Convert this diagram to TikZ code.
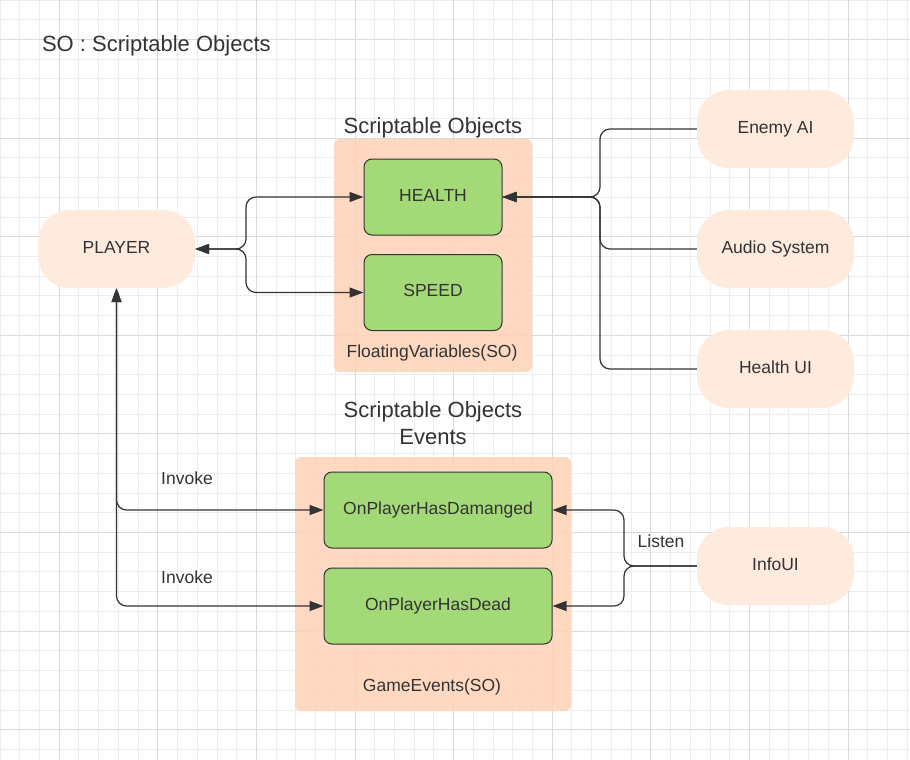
\documentclass[tikz,border=0pt]{standalone}
\usepackage{fontspec}
\setmainfont{Liberation Sans}
\usetikzlibrary{arrows.meta}
\definecolor{inkgray}{HTML}{333333}
\definecolor{gridminor}{HTML}{EDEDED}
\definecolor{gridmajor}{HTML}{DADADA}
\definecolor{actorfill}{HTML}{FFEADE}
\definecolor{groupfill}{HTML}{FFD2B8}
\definecolor{sogreen}{HTML}{A3D977}

\begin{document}
\begin{tikzpicture}
[
x=1pt,y=-1pt,
every node/.style={text=inkgray,font=\fontsize{17.5}{21}\selectfont},
actor/.style={fill=actorfill,rounded corners=32pt,minimum width=157pt,minimum height=78pt,inner sep=0pt,text height=13pt,text depth=4.5pt},
sobox/.style 2 args={draw=inkgray,line width=1pt,fill=sogreen,rounded corners=8pt,minimum width=#1,minimum height=#2,inner sep=0pt,text height=13pt,text depth=4.5pt},
sogroup/.style 2 args={fill=groupfill,fill opacity=0.85,rounded corners=6pt,minimum width=#1,minimum height=#2,inner sep=0pt},
link/.style={draw=inkgray,line width=1.2pt,rounded corners=10pt,>={Triangle[length=14pt,width=10pt]}},
heading/.style={font=\fontsize{22}{27}\selectfont,align=center},
]
\useasboundingbox (0,0) rectangle (910,760);
\fill[white] (0,0) rectangle (910,760);

%Grid
\foreach \i in {0,...,46}
  \draw[gridminor,line width=0.8pt] (\i*19.72,0) -- (\i*19.72,760);
\foreach \i in {0,...,38}
  \draw[gridminor,line width=0.8pt] (0,\i*19.72) -- (910,\i*19.72);
\foreach \i in {3,8,...,43}
  \draw[gridmajor,line width=0.8pt] (\i*19.72,0) -- (\i*19.72,760);
\foreach \i in {2,7,...,37}
  \draw[gridmajor,line width=0.8pt] (0,\i*19.72) -- (910,\i*19.72);

%Place the nodes
\node[anchor=west] (title) at (38.5,46) {\fontsize{22}{27}\selectfont SO : Scriptable Objects};

\node[sogroup={198pt}{233pt}] (vargroup) at (433,255.5) {};
\node[heading] (vartitle) at (433,128) {Scriptable Objects};
\node (varlabel) at (432,353) {FloatingVariables(SO)};
\node[sobox={138pt}{76pt}] (health) at (433,197) {HEALTH};
\node[sobox={138pt}{76pt}] (speed) at (433,292.5) {SPEED};

\node[sogroup={276pt}{254pt}] (evgroup) at (433,584) {};
\node[heading] (evtitle) at (433,423.5) {Scriptable Objects\\Events};
\node (evlabel) at (432,687) {GameEvents(SO)};
\node[sobox={228pt}{76pt}] (damaged) at (438,510) {OnPlayerHasDamanged};
\node[sobox={228pt}{76pt}] (dead) at (438,606) {OnPlayerHasDead};

\node[actor] (player) at (116.5,249) {PLAYER};
\node[actor] (enemy) at (775.5,129) {Enemy AI};
\node[actor] (audio) at (775.5,249) {Audio System};
\node[actor] (healthui) at (775.5,369) {Health UI};
\node[actor] (infoui) at (775.5,566) {InfoUI};

\node (invokea) at (187,478) {Invoke};
\node (invokeb) at (187,577) {Invoke};
\node (listen) at (661,541) {Listen};

\coordinate (pj) at (246,249);
\coordinate (hj) at (600,197);
\coordinate (ij) at (624,566);

%Draw the connections
\draw[link,<->] (player) -- (pj) |- (health);
\draw[link,<->] (player) -- (pj) |- (speed);
\draw[link,->] (enemy) -| (hj) -- (health);
\draw[link,->] (audio) -| (hj) -- (health);
\draw[link,->] (healthui) -| (hj) -- (health);
\draw[link,<->] (player) |- (damaged);
\draw[link,<->] (player) |- (dead);
\draw[link,->] (infoui) -- (ij) |- (damaged);
\draw[link,->] (infoui) -- (ij) |- (dead);
\end{tikzpicture}
\end{document}
